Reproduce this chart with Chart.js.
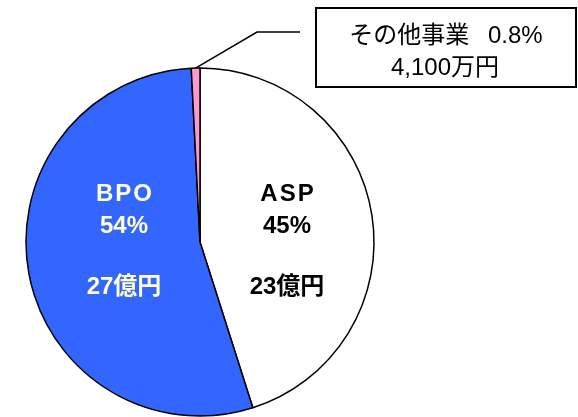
<!DOCTYPE html>
<html>
<head>
<meta charset="utf-8">
<script src="https://cdn.jsdelivr.net/npm/chart.js@4/dist/chart.umd.min.js"></script>
<style>
  html, body { margin: 0; padding: 0; background: #fff; }
  #wrap { width: 578px; height: 417px; }
</style>
</head>
<body>
<div id="wrap"><canvas id="pie" width="578" height="417"></canvas></div>
<script>
// 事業別売上構成
var segments = ['ASP', 'BPO', 'その他事業'];
var shares = [45, 54, 0.8];
var shareLabels = ['45%', '54%', '0.8%'];
var amounts = ['23億円', '27億円', '4,100万円'];
var colors = ['#FFFFFF', '#3366FF', '#FF99CC'];

var canvas1 = document.getElementById('pie');
var context1 = canvas1.getContext('2d');

var latinFont = "'Liberation Sans', Arial, 'Noto Sans CJK JP', sans-serif";

// labels drawn inside the two large slices
var sliceText = {
    id: 'sliceText',
    afterDatasetsDraw: function(chart){
        var ctx = chart.ctx;
        var arcs = chart.getDatasetMeta(0).data;
        var cx = arcs[0].x, cy = arcs[0].y;
        var spots = [
            {i: 0, dx: 87, color: '#000000'},
            {i: 1, dx: -76, color: '#FFFFCC'}
        ];
        ctx.save();
        ctx.font = 'bold 24px ' + latinFont;
        ctx.textAlign = 'center';
        ctx.textBaseline = 'middle';
        for(var k = 0; k < spots.length; k++){
            var s = spots[k];
            ctx.fillStyle = s.color;
            ctx.letterSpacing = '2px';
            ctx.fillText(segments[s.i], cx + s.dx + 1, cy - 48);
            ctx.letterSpacing = '0px';
            ctx.fillText(shareLabels[s.i], cx + s.dx, cy - 16);
            ctx.fillText(amounts[s.i], cx + s.dx, cy + 45);
        }
        ctx.restore();
    }
};

// callout for the small slice
var callout = {
    id: 'callout',
    afterDraw: function(chart){
        var ctx = chart.ctx;
        var arc = chart.getDatasetMeta(0).data[2];
        var mid = (arc.startAngle + arc.endAngle) / 2;
        var px = arc.x + Math.cos(mid) * arc.outerRadius;
        var py = arc.y + Math.sin(mid) * arc.outerRadius;
        ctx.save();
        ctx.strokeStyle = '#000';
        ctx.lineWidth = 1.5;
        ctx.beginPath();
        ctx.moveTo(px, py);
        ctx.lineTo(257, 32);
        ctx.lineTo(300, 32);
        ctx.stroke();

        ctx.lineWidth = 2;
        ctx.strokeRect(316, 8, 260, 79);

        ctx.fillStyle = '#000';
        ctx.font = '24px ' + latinFont;
        ctx.textAlign = 'center';
        ctx.textBaseline = 'middle';
        ctx.fillText(segments[2] + '\u2002 ' + shareLabels[2], 446, 36);
        ctx.fillText(amounts[2], 445, 68);
        ctx.restore();
    }
};

var chart = new Chart(context1, {
    type: 'pie',
    data: {
        labels: segments,
        datasets: [{
            data: shares,
            backgroundColor: colors,
            borderColor: '#000000',
            borderWidth: 1.5,
            hoverOffset: 0
        }]
    },
    options: {
        responsive: false,
        animation: false,
        radius: 174,
        layout: {padding: {left: 22, right: 200, top: 67, bottom: 0}},
        plugins: {
            legend: {display: false},
            tooltip: {enabled: false}
        }
    },
    plugins: [sliceText, callout]
});
</script>
</body>
</html>
